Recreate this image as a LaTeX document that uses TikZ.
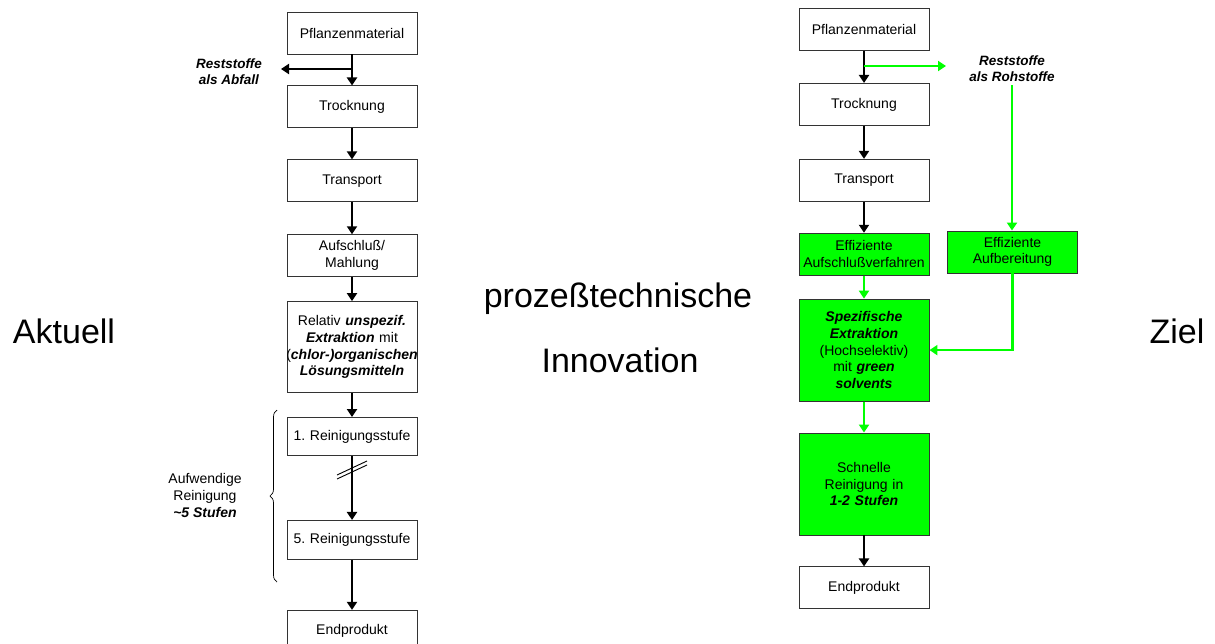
\documentclass[tikz,border=0pt]{standalone}
\usepackage{fontspec}
\setmainfont{Liberation Sans}
\usepackage{tikz}
\usetikzlibrary{positioning,calc,arrows.meta,decorations.pathreplacing}
\definecolor{procgreen}{HTML}{00FF00}
\frenchspacing
\tikzstyle{stage} = [draw=black!80, line width=0.9pt, minimum width=130pt, minimum height=42pt, inner sep=0pt, text width=126pt, align=center, font=\fontsize{14}{16.7}\selectfont]
\tikzstyle{gstage} = [stage, fill=procgreen]
\tikzstyle{line} = [draw, line width=2.2pt, -{Triangle[width=10pt,length=8pt]}]
\tikzstyle{gline} = [line, draw=procgreen]
\tikzstyle{big} = [anchor=base, font=\fontsize{34}{40}\selectfont]
\tikzstyle{rest} = [align=center, font=\fontsize{13.5}{16}\selectfont]
\newcommand{\bi}[1]{\textbf{\textit{#1}}}

\begin{document}
\begin{tikzpicture}[x=1pt, y=-1pt, node distance=31pt]
    \useasboundingbox (0,0) rectangle (1215,643);
    \node[big] (aktuell) at (64,343) {Aktuell};
    \node[big] (innov1) at (618,307) {prozeßtechnische};
    \node[big] (innov2) at (620,372) {Innovation};
    \node[big] (ziel) at (1177,343) {Ziel};

    % aktuell
    \node[stage] (akt1) at (352,33) {Pflanzenmaterial};
    \node[stage] (akt2) [below = 31pt of akt1] {Trocknung};
    \node[stage] (akt3) [below = 31pt of akt2] {Transport};
    \node[stage] (akt4) [below = 32pt of akt3] {Aufschluß/\\Mahlung};
    \node[stage, minimum height=91pt] (akt5) [below = 24pt of akt4] {Relativ \bi{unspezif.}\\\bi{Extraktion} mit\\\makebox[126pt][c]{(\bi{chlor-)organischen}}\\\bi{Lösungsmitteln}};
    \node[stage, minimum height=38pt] (akt6) [below = 24pt of akt5] {1. Reinigungsstufe};
    \node[stage, minimum height=39pt] (akt7) [below = 64pt of akt6] {5. Reinigungsstufe};
    \node[stage] (akt8) [below = 50pt of akt7] {Endprodukt};
    \node[rest] (abfall) at (229,72) {\bi{Reststoffe}\\\bi{als Abfall}};
    \coordinate (abfallend) at (281,69);
    \coordinate (cut) at (352,468);
    \node[align=center, font=\fontsize{14}{17}\selectfont] (aufwand) at (205,495) {Aufwendige\\Reinigung\\\bi{\textasciitilde5 Stufen}};

    \path [line] (akt1) -- (akt2);
    \path [line] (akt1.south |- abfallend) -- (abfallend);
    \path [line] (akt2) -- (akt3);
    \path [line] (akt3) -- (akt4);
    \path [line] (akt4) -- (akt5);
    \path [line] (akt5) -- (akt6);
    \path [line] (akt6) -- (akt7);
    \path [line] (akt7) -- (akt8);
    \draw[line width=0.9pt] ($(cut)+(-15,7)$) -- ($(cut)+(15,-7)$);
    \draw[line width=0.9pt] ($(cut)+(-15,11)$) -- ($(cut)+(15,-3)$);
    \draw[decorate, decoration={brace, amplitude=7pt}, line width=0.7pt] (277,582) -- (277,410);

    % ziel
    \node[stage] (ziel1) at (864,29.5) {Pflanzenmaterial};
    \node[stage] (ziel2) [below = 32pt of ziel1] {Trocknung};
    \node[stage] (ziel3) [below = 33pt of ziel2] {Transport};
    \node[gstage] (ziel4) [below = 31pt of ziel3] {Effiziente\\Aufschlußverfahren};
    \node[gstage, minimum height=102pt] (ziel5) [below = 23pt of ziel4] {\bi{Spezifische}\\\bi{Extraktion}\\(Hochselektiv)\\mit \bi{green}\\\bi{solvents}};
    \node[gstage, minimum height=102pt] (ziel6) [below = 31pt of ziel5] {Schnelle\\Reinigung in\\\bi{1-2 Stufen}};
    \node[stage] (ziel7) [below = 31pt of ziel6] {Endprodukt};
    \node[gstage] (aufber) at (1012.5,252) {Effiziente\\Aufbereitung};
    \node[rest] (roh) at (1012,69) {\bi{Reststoffe}\\\bi{als Rohstoffe}};
    \coordinate (rohend) at (946,66);

    \path [line] (ziel1) -- (ziel2);
    \path [gline] (ziel1.south |- rohend) -- (rohend);
    \path [line] (ziel2) -- (ziel3);
    \path [line] (ziel3) -- (ziel4);
    \path [gline] (ziel4) -- (ziel5);
    \path [gline] (ziel5) -- (ziel6);
    \path [line] (ziel6) -- (ziel7);
    \path [gline] (roh.south) -- (roh.south |- aufber.north);
    \path [gline] (aufber) |- (ziel5);
\end{tikzpicture}
\end{document}
